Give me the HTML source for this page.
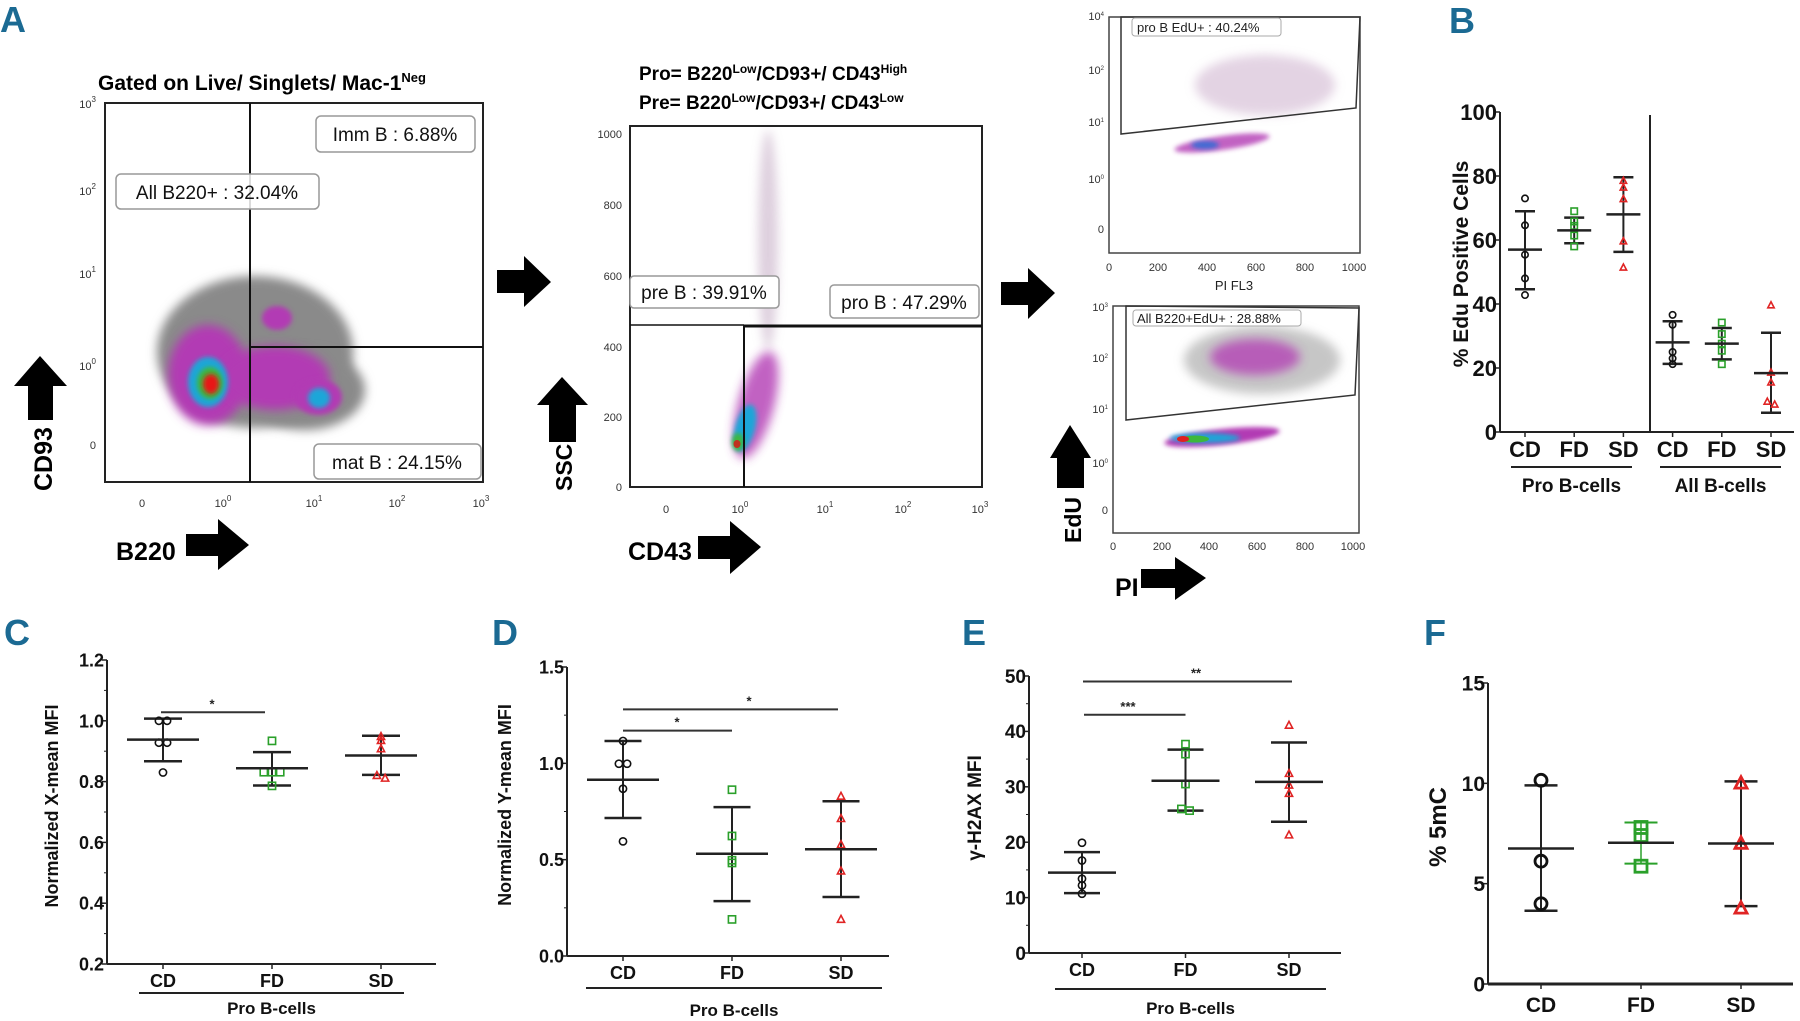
<!DOCTYPE html>
<html><head><meta charset="utf-8">
<style>
html,body{margin:0;padding:0;background:#fff;overflow:hidden;}
svg{display:block;font-family:"Liberation Sans Narrow","Liberation Sans",sans-serif;}
.lbl{font-weight:bold;fill:#1b6a93;font-size:36px;}
.ftk{font-size:11px;fill:#333;}
.gl{font-size:19px;fill:#111;}
</style></head>
<body>
<svg id="fig" width="1800" height="1021" viewBox="0 0 1800 1021" xmlns="http://www.w3.org/2000/svg">
<defs>
<filter id="blur6" x="-50%" y="-50%" width="200%" height="200%"><feGaussianBlur stdDeviation="5"/></filter>
<filter id="blur3" x="-50%" y="-50%" width="200%" height="200%"><feGaussianBlur stdDeviation="2.5"/></filter>
</defs>

<text class="lbl" x="0" y="32">A</text>
<text class="lbl" x="1449" y="33">B</text>
<text class="lbl" x="4" y="645">C</text>
<text class="lbl" x="492" y="645">D</text>
<text class="lbl" x="962" y="645">E</text>
<text class="lbl" x="1424" y="645">F</text>

<!-- ===== A1 flow plot ===== -->
<g>
<text x="98" y="90" font-size="21" font-weight="bold">Gated on Live/ Singlets/ Mac-1<tspan font-size="13" dy="-8">Neg</tspan></text>
<g>
<ellipse cx="255" cy="352" rx="98" ry="76" fill="#8a8a8a" filter="url(#blur6)"/>
<ellipse cx="305" cy="390" rx="60" ry="40" fill="#8a8a8a" filter="url(#blur6)"/>
<ellipse cx="208" cy="375" rx="40" ry="50" fill="#b23ab4" filter="url(#blur6)"/>
<ellipse cx="275" cy="378" rx="55" ry="32" fill="#b23ab4" filter="url(#blur6)"/>
<ellipse cx="318" cy="397" rx="24" ry="18" fill="#b23ab4" filter="url(#blur3)"/>
<ellipse cx="277" cy="318" rx="15" ry="12" fill="#b23ab4" filter="url(#blur3)"/>
<ellipse cx="208" cy="382" rx="20" ry="25" fill="#1fa6d8" filter="url(#blur3)"/>
<ellipse cx="319" cy="398" rx="11" ry="10" fill="#1fa6d8" filter="url(#blur3)"/>
<ellipse cx="210" cy="383" rx="13" ry="16" fill="#3cb83c" filter="url(#blur3)"/>
<ellipse cx="211" cy="384" rx="8" ry="10" fill="#e81616" filter="url(#blur3)"/>
</g>
<rect x="105" y="103" width="378" height="379" fill="none" stroke="#222" stroke-width="2"/>
<line x1="250" y1="103" x2="250" y2="482" stroke="#111" stroke-width="2"/>
<line x1="250" y1="347" x2="483" y2="347" stroke="#111" stroke-width="2"/>
<g class="ftk">
<text x="96" y="108" text-anchor="end">10<tspan font-size="8" dy="-6">3</tspan></text>
<text x="96" y="195" text-anchor="end">10<tspan font-size="8" dy="-6">2</tspan></text>
<text x="96" y="278" text-anchor="end">10<tspan font-size="8" dy="-6">1</tspan></text>
<text x="96" y="370" text-anchor="end">10<tspan font-size="8" dy="-6">0</tspan></text>
<text x="96" y="449" text-anchor="end">0</text>
</g>
<g class="ftk" text-anchor="middle">
<text x="142" y="507">0</text>
<text x="223" y="507">10<tspan font-size="8" dy="-6">0</tspan></text>
<text x="314" y="507">10<tspan font-size="8" dy="-6">1</tspan></text>
<text x="397" y="507">10<tspan font-size="8" dy="-6">2</tspan></text>
<text x="481" y="507">10<tspan font-size="8" dy="-6">3</tspan></text>
</g>
<g><rect x="316" y="116" width="159" height="36" rx="5" fill="#fff" stroke="#999" stroke-width="1.5"/><text x="395" y="141" text-anchor="middle" class="gl">Imm B : 6.88%</text></g>
<g><rect x="116" y="174" width="203" height="35" rx="5" fill="#fff" fill-opacity="0.85" stroke="#999" stroke-width="1.5"/><text x="217" y="199" text-anchor="middle" class="gl">All B220+ : 32.04%</text></g>
<g><rect x="314" y="444" width="167" height="35" rx="5" fill="#fff" stroke="#999" stroke-width="1.5"/><text x="397" y="469" text-anchor="middle" class="gl">mat B : 24.15%</text></g>
<text x="116" y="560" font-size="25" font-weight="bold">B220</text>
<polygon points="186,534 218,534 218,519 249,545 218,570 218,556 186,556" fill="#000"/>
<text transform="translate(52,491) rotate(-90)" font-size="25" font-weight="bold">CD93</text>
<polygon points="28,420 28,386 14,386 40,356 67,386 53,386 53,420" fill="#000"/>
</g>

<polygon points="497,270 524,270 524,256 551,282 524,307 524,293 497,293" fill="#000"/>

<!-- ===== A2 flow plot ===== -->
<g>
<text x="639" y="80" font-size="19" font-weight="bold">Pro= B220<tspan font-size="12" dy="-7">Low</tspan><tspan dy="7">/CD93+/ CD43</tspan><tspan font-size="12" dy="-7">High</tspan></text>
<text x="639" y="109" font-size="19" font-weight="bold">Pre= B220<tspan font-size="12" dy="-7">Low</tspan><tspan dy="7">/CD93+/ CD43</tspan><tspan font-size="12" dy="-7">Low</tspan></text>
<g>
<ellipse cx="768" cy="240" rx="10" ry="110" fill="#c8b0c8" opacity="0.6" filter="url(#blur6)"/>
<ellipse cx="756" cy="405" rx="18" ry="55" fill="#b23ab4" opacity="0.8" filter="url(#blur6)" transform="rotate(15 756 405)"/>
<ellipse cx="745" cy="428" rx="10" ry="24" fill="#1fa6d8" filter="url(#blur3)" transform="rotate(15 745 428)"/>
<ellipse cx="738" cy="442" rx="6" ry="9" fill="#3cb83c" filter="url(#blur3)"/>
<ellipse cx="737" cy="444" rx="3.5" ry="4" fill="#c03020"/>
</g>
<rect x="630" y="126" width="352" height="361" fill="none" stroke="#222" stroke-width="2"/>
<line x1="630" y1="325" x2="744" y2="325" stroke="#111" stroke-width="1.5"/>
<line x1="744" y1="326" x2="982" y2="326" stroke="#111" stroke-width="3"/>
<line x1="744" y1="325" x2="744" y2="487" stroke="#111" stroke-width="2"/>
<g class="ftk" text-anchor="end" font-size="13">
<text x="622" y="138">1000</text><text x="622" y="209">800</text><text x="622" y="280">600</text><text x="622" y="351">400</text><text x="622" y="421">200</text><text x="622" y="491">0</text>
</g>
<g class="ftk" text-anchor="middle">
<text x="666" y="513">0</text>
<text x="740" y="513">10<tspan font-size="8" dy="-6">0</tspan></text>
<text x="825" y="513">10<tspan font-size="8" dy="-6">1</tspan></text>
<text x="903" y="513">10<tspan font-size="8" dy="-6">2</tspan></text>
<text x="980" y="513">10<tspan font-size="8" dy="-6">3</tspan></text>
</g>
<g><rect x="630" y="276" width="149" height="32" rx="4" fill="#fff" stroke="#999" stroke-width="1.5"/><text x="704" y="299" text-anchor="middle" class="gl">pre B : 39.91%</text></g>
<g><rect x="830" y="285" width="149" height="33" rx="4" fill="#fff" stroke="#999" stroke-width="1.5"/><text x="904" y="309" text-anchor="middle" class="gl">pro B : 47.29%</text></g>
<text x="628" y="560" font-size="25" font-weight="bold">CD43</text>
<polygon points="698,536 730,536 730,521 761,547 730,574 730,559 698,559" fill="#000"/>
<text transform="translate(572,491) rotate(-90)" font-size="23" font-weight="bold">SSC</text>
<polygon points="549,442 549,405 537,405 562,377 588,405 576,405 576,442" fill="#000"/>
</g>

<polygon points="1001,282 1028,282 1028,268 1055,293 1028,319 1028,305 1001,305" fill="#000"/>

<!-- ===== A3 flow plot ===== -->
<g>
<g>
<ellipse cx="1265" cy="85" rx="70" ry="30" fill="#c8a8c8" opacity="0.5" filter="url(#blur6)"/>
<ellipse cx="1222" cy="143" rx="48" ry="7" fill="#b23ab4" opacity="0.8" filter="url(#blur3)" transform="rotate(-8 1222 143)"/>
<ellipse cx="1205" cy="145" rx="14" ry="4" fill="#1f6ed8" opacity="0.8" filter="url(#blur3)"/>
</g>
<rect x="1109" y="17" width="251" height="236" fill="none" stroke="#444" stroke-width="1.5"/>
<polygon points="1121,17 1121,134 1356,108 1360,17" fill="none" stroke="#333" stroke-width="1.5"/>
<rect x="1132" y="18" width="149" height="18" rx="3" fill="#fff" stroke="#aaa"/>
<text x="1137" y="32" font-size="13" fill="#222">pro B EdU+ : 40.24%</text>
<g class="ftk" font-size="9" text-anchor="end">
<text x="1104" y="20">10<tspan font-size="6" dy="-4">4</tspan></text><text x="1104" y="74">10<tspan font-size="6" dy="-4">2</tspan></text><text x="1104" y="126">10<tspan font-size="6" dy="-4">1</tspan></text><text x="1104" y="183">10<tspan font-size="6" dy="-4">0</tspan></text><text x="1104" y="233">0</text>
</g>
<g class="ftk" font-size="10" text-anchor="middle">
<text x="1109" y="271">0</text><text x="1158" y="271">200</text><text x="1207" y="271">400</text><text x="1256" y="271">600</text><text x="1305" y="271">800</text><text x="1354" y="271">1000</text>
</g>
<text x="1234" y="290" font-size="13" text-anchor="middle" fill="#222">PI FL3</text>
</g>

<!-- ===== A4 flow plot ===== -->
<g>
<g>
<ellipse cx="1262" cy="360" rx="78" ry="34" fill="#999" opacity="0.55" filter="url(#blur6)"/>
<ellipse cx="1255" cy="357" rx="45" ry="18" fill="#b23ab4" opacity="0.75" filter="url(#blur6)"/>
<ellipse cx="1222" cy="437" rx="58" ry="8" fill="#b23ab4" filter="url(#blur3)" transform="rotate(-6 1222 437)"/>
<ellipse cx="1205" cy="438" rx="35" ry="5" fill="#1fa6d8" filter="url(#blur3)"/>
<ellipse cx="1195" cy="439" rx="14" ry="3.5" fill="#3cb83c"/>
<ellipse cx="1183" cy="439" rx="6" ry="3" fill="#e02020"/>
</g>
<rect x="1113" y="306" width="246" height="227" fill="none" stroke="#444" stroke-width="1.5"/>
<polygon points="1126,306 1126,420 1355,395 1359,308" fill="none" stroke="#333" stroke-width="1.5"/>
<rect x="1133" y="310" width="168" height="16" rx="3" fill="#fff" stroke="#aaa"/>
<text x="1137" y="323" font-size="13" fill="#222">All B220+EdU+ : 28.88%</text>
<g class="ftk" font-size="9" text-anchor="end">
<text x="1108" y="311">10<tspan font-size="6" dy="-4">3</tspan></text><text x="1108" y="362">10<tspan font-size="6" dy="-4">2</tspan></text><text x="1108" y="413">10<tspan font-size="6" dy="-4">1</tspan></text><text x="1108" y="467">10<tspan font-size="6" dy="-4">0</tspan></text><text x="1108" y="514">0</text>
</g>
<g class="ftk" font-size="10" text-anchor="middle">
<text x="1113" y="550">0</text><text x="1162" y="550">200</text><text x="1209" y="550">400</text><text x="1257" y="550">600</text><text x="1305" y="550">800</text><text x="1353" y="550">1000</text>
</g>
<text transform="translate(1081,543) rotate(-90)" font-size="23" font-weight="bold">EdU</text>
<polygon points="1057,488 1057,458 1050,458 1070,425 1091,458 1084,458 1084,488" fill="#000"/>
<text x="1115" y="596" font-size="25" font-weight="bold">PI</text>
<polygon points="1141,569 1175,569 1175,557 1206,578 1175,600 1175,588 1141,588" fill="#000"/>
</g>

<g id="charts"></g>
</svg>

<script>
// ---------- Panel B data (% EdU positive) ----------
const bCategories = ["CD","FD","SD","CD","FD","SD"];
const bYTicks = [0,20,40,60,80,100];
const bProCD = [73,64.6,55.4,48,42.8];
const bProFD = [69,65.8,64.4,61.4,58];
const bProSD = [78.5,76.4,72.8,59.6,51.4];
const bAllCD = [36.6,33.5,25,23,21.2];
const bAllFD = [34.2,30.6,27.6,25.4,21.2];
const bAllSD = [39.6,18.6,15.5,9.5,8.6];
const bMeans = [57,63,68,28,27.6,18.4];
const bErrHi = [69,67,79.6,34.6,32.5,31];
const bErrLo = [44.6,59,56.3,21.3,22.7,6];

// ---------- Panel C data ----------
const cCategories = ["CD","FD","SD"];
const cYTicks = [0.2,0.4,0.6,0.8,1.0,1.2];
const cCD = [1.0,1.0,0.928,0.928,0.83];
const cFD = [0.934,0.831,0.831,0.831,0.786];
const cSD = [0.948,0.935,0.908,0.82,0.811];
const cMeans = [0.938,0.844,0.886];
const cErrHi = [1.007,0.897,0.951];
const cErrLo = [0.867,0.787,0.822];

// ---------- Panel D data ----------
const dCategories = ["CD","FD","SD"];
const dYTicks = [0.0,0.5,1.0,1.5];
const dCD = [1.116,0.998,0.998,0.868,0.595];
const dFD = [0.863,0.623,0.497,0.483,0.19];
const dSD = [0.829,0.713,0.578,0.441,0.19];
const dMeans = [0.915,0.531,0.554];
const dErrHi = [1.116,0.773,0.803];
const dErrLo = [0.716,0.285,0.306];

// ---------- Panel E data ----------
const eCategories = ["CD","FD","SD"];
const eYTicks = [0,10,20,30,40,50];
const eCD = [19.9,16.7,13.4,12.2,10.7];
const eFD = [37.7,35.9,30.5,26,25.7];
const eSD = [41.1,32.4,30.3,28.8,21.3];
const eMeans = [14.5,31.1,30.9];
const eErrHi = [18.2,36.7,38];
const eErrLo = [10.8,25.7,23.7];

// ---------- Panel F data ----------
const fCategories = ["CD","FD","SD"];
const fYTicks = [0,5,10,15];
const fCD = [10.15,6.12,4.0];
const fFD = [7.8,7.4,5.87];
const fSD = [10.0,7.0,3.77];
const fMeans = [6.75,7.04,7.0];
const fErrHi = [9.9,8.05,10.1];
const fErrLo = [3.65,6.0,3.88];

const NS = "http://www.w3.org/2000/svg";
const root = document.getElementById("charts");
const COLORS = ["#111","#2aa02a","#e02424"];
const SHAPES = ["circle","square","triangle"];

function mk(tag, attrs, parent){
  const el = document.createElementNS(NS, tag);
  for (const k in attrs) el.setAttribute(k, attrs[k]);
  (parent||root).appendChild(el);
  return el;
}
function txt(s, attrs, parent){ const t = mk("text", attrs, parent); t.textContent = s; return t; }

function marker(g, shape, cx, cy, r, color, sw){
  let el;
  if (shape === "circle") el = mk("circle",{cx:cx,cy:cy,r:r,fill:"none",stroke:color,"stroke-width":sw},g);
  else if (shape === "square") el = mk("rect",{x:cx-r,y:cy-r,width:2*r,height:2*r,fill:"none",stroke:color,"stroke-width":sw},g);
  else el = mk("polygon",{points:`${cx},${cy-r*1.1} ${cx+r},${cy+r*0.8} ${cx-r},${cy+r*0.8}`,fill:"none",stroke:color,"stroke-width":sw},g);
  
  
}

function jitter(vals, tol, step){
  const offs = vals.map(()=>0);
  for (let i=0;i<vals.length;i++){
    const grp = [];
    for (let j=0;j<vals.length;j++) if (Math.abs(vals[j]-vals[i])<tol) grp.push(j);
    if (grp.length>1){ const k = grp.indexOf(i); offs[i] = (k-(grp.length-1)/2)*step; }
  }
  return offs;
}

function drawPanel(p){
  const g = mk("g",{});
  
  
  const y = v => p.y0 + (v - p.vmin)/(p.vmax - p.vmin)*(p.y1 - p.y0);
  const x = i => p.xs[0] + i*p.xstep;
  const ya = mk("line",{x1:p.ax,y1:y(p.vmax),x2:p.ax,y2:p.y0,stroke:"#222","stroke-width":2},g);
  
  
  const xa = mk("line",{x1:p.ax,y1:p.y0,x2:p.axEnd,y2:p.y0,stroke:"#222","stroke-width":p.xaW||2},g);
  
  
  p.ticks.forEach(t=>{
    mk("line",{x1:p.ax-5,y1:y(t),x2:p.ax,y2:y(t),stroke:"#222","stroke-width":1.5},g);
    const tl = txt(p.fmt(t),{x:p.ax-3,y:y(t)+p.tickFs*0.36,"text-anchor":"end","font-size":p.tickFs,"font-weight":"bold",fill:"#111"},g);
    
    
  });
  if (p.minor){ for (let k=0;k<p.ticks.length-1;k++){ const m=(p.ticks[k]+p.ticks[k+1])/2; mk("line",{x1:p.ax-3,y1:y(m),x2:p.ax,y2:y(m),stroke:"#222","stroke-width":1},g);} }
  p.cats.forEach((c,i)=>{
    mk("line",{x1:x(i),y1:p.y0,x2:x(i),y2:p.y0+5,stroke:"#222","stroke-width":1.5},g);
    const cl = txt(c,{x:x(i),y:p.catY,"text-anchor":"middle","font-size":p.catFs,"font-weight":"bold",fill:"#111"},g);
    
    
  });
  const yt = txt(p.ytitle,{transform:`translate(${p.ytX},${p.ytY}) rotate(-90)`,"text-anchor":"middle","font-size":p.ytFs,"font-weight":"bold",fill:"#111","font-family":"Liberation Sans, sans-serif"},g);
  
  
  p.series.forEach((vals,i)=>{
    const ci = i % 3;
    const sg = mk("g",{},g);
    
    
    const cx = x(i);
    const ebColor = (p.greenBars && ci===1) ? "#2aa02a" : "#222";
    const ebW = (p.greenBars && ci===1) ? 1.5 : 2;
    const eb = mk("line",{x1:cx,y1:y(p.hi[i]),x2:cx,y2:y(p.lo[i]),stroke:ebColor,"stroke-width":ebW},sg);
    
    
    [p.hi[i],p.lo[i]].forEach(v=>{ const cap = mk("line",{x1:cx-p.capW/2,y1:y(v),x2:cx+p.capW/2,y2:y(v),stroke:ebColor,"stroke-width":ebW+0.5},sg);
      
       });
    const offs = jitter(vals, p.tol, p.r*2+1);
    vals.forEach((v,k)=> marker(sg, SHAPES[ci], cx+offs[k], y(v), p.r, COLORS[ci], p.msw));
    const ml = mk("line",{x1:cx-p.meanW/2,y1:y(p.means[i]),x2:cx+p.meanW/2,y2:y(p.means[i]),stroke:"#222","stroke-width":2.5},sg);
    
    
  });
  (p.groups||[]).forEach(gr=>{
    mk("line",{x1:gr.x1,y1:gr.ly,x2:gr.x2,y2:gr.ly,stroke:"#222","stroke-width":2},g);
    const gl = txt(gr.label,{x:(gr.x1+gr.x2)/2,y:gr.ty,"text-anchor":"middle","font-size":p.grpFs,"font-weight":"bold",fill:"#111"},g);
    
    
  });
  (p.sig||[]).forEach(s=>{
    const sl = mk("line",{x1:x(s.a)+s.dx1,y1:y(s.v),x2:x(s.b)+s.dx2,y2:y(s.v),stroke:"#333","stroke-width":2},g);
    
    
    const st = txt(s.t,{x:s.tx,y:y(s.v)-4,"text-anchor":"middle","font-size":13,"font-weight":"bold",fill:"#222"},g);
    
    
  });
  if (p.extra) p.extra(g,y,x);
}

// Panel B
drawPanel({name:"chart-b-edu", ax:1500, axEnd:1794, y0:432, y1:112, vmin:0, vmax:100, ticks:bYTicks, fmt:v=>String(v),
  tickFs:22, xs:[1525], xstep:49.2, cats:bCategories, catY:457, catFs:22,
  ytitle:"% Edu Positive Cells", ytX:1468, ytY:264, ytFs:21,
  series:[bProCD,bProFD,bProSD,bAllCD,bAllFD,bAllSD], means:bMeans, hi:bErrHi, lo:bErrLo,
  r:3.2, msw:1.6, tol:1, capW:20, meanW:34,
  groups:[{x1:1511,x2:1632,ly:467,ty:492,label:"Pro B-cells"},{x1:1660,x2:1781,ly:467,ty:492,label:"All B-cells"}], grpFs:19,
  extra:(g,y)=>{ const d=mk("line",{x1:1650,y1:115,x2:1650,y2:432,stroke:"#222","stroke-width":2},g);
    
     }
});
// Panel C
drawPanel({name:"chart-c-xmean", ax:107, axEnd:436, y0:964, y1:660, vmin:0.2, vmax:1.2, ticks:cYTicks, fmt:v=>v.toFixed(1),
  tickFs:18, xs:[163], xstep:109, cats:cCategories, catY:987, catFs:18,
  ytitle:"Normalized X-mean MFI", ytX:58, ytY:806, ytFs:18,
  series:[cCD,cFD,cSD], means:cMeans, hi:cErrHi, lo:cErrLo,
  r:3.6, msw:1.6, tol:0.012, capW:38, meanW:72, minor:true,
  groups:[{x1:139,x2:404,ly:993,ty:1014,label:"Pro B-cells"}], grpFs:17,
  sig:[{a:0,b:1,v:1.028,t:"*",tx:212,dx1:-2,dx2:-7}]
});
// Panel D
drawPanel({name:"chart-d-ymean", ax:567, axEnd:889, y0:956, y1:667, vmin:0, vmax:1.5, ticks:dYTicks, fmt:v=>v.toFixed(1),
  tickFs:18, xs:[623], xstep:109, cats:dCategories, catY:979, catFs:18,
  ytitle:"Normalized Y-mean MFI", ytX:511, ytY:805, ytFs:18,
  series:[dCD,dFD,dSD], means:dMeans, hi:dErrHi, lo:dErrLo,
  r:3.6, msw:1.6, tol:0.01, capW:37, meanW:72, minor:true,
  groups:[{x1:586,x2:882,ly:988,ty:1016,label:"Pro B-cells"}], grpFs:17,
  sig:[{a:0,b:1,v:1.17,t:"*",tx:677,dx1:0,dx2:0},{a:0,b:2,v:1.28,t:"*",tx:749,dx1:0,dx2:-3}]
});
// Panel E
drawPanel({name:"chart-e-h2ax", ax:1029, axEnd:1341, y0:953, y1:676, vmin:0, vmax:50, ticks:eYTicks, fmt:v=>String(v),
  tickFs:19, xs:[1082], xstep:103.5, cats:eCategories, catY:976, catFs:18,
  ytitle:"γ-H2AX MFI", ytX:981, ytY:808, ytFs:19,
  series:[eCD,eFD,eSD], means:eMeans, hi:eErrHi, lo:eErrLo,
  r:3.6, msw:1.6, tol:0.5, capW:36, meanW:68, minor:true,
  groups:[{x1:1055,x2:1326,ly:989,ty:1014,label:"Pro B-cells"}], grpFs:17,
  sig:[{a:0,b:1,v:43,t:"***",tx:1128,dx1:2,dx2:0},{a:0,b:2,v:49,t:"**",tx:1196,dx1:1,dx2:3}]
});
// Panel F
drawPanel({name:"chart-f-5mc", ax:1488, axEnd:1793, y0:984, y1:683, vmin:0, vmax:15, ticks:fYTicks, fmt:v=>String(v),
  tickFs:21, xs:[1541], xstep:100, cats:fCategories, catY:1012, catFs:21,
  ytitle:"% 5mC", ytX:1446, ytY:827, ytFs:24, xaW:3,
  series:[fCD,fFD,fSD], means:fMeans, hi:fErrHi, lo:fErrLo,
  r:6, msw:2.8, tol:0.1, capW:33, meanW:66, greenBars:true,
  groups:[], grpFs:16
});
</script>
</body></html>
